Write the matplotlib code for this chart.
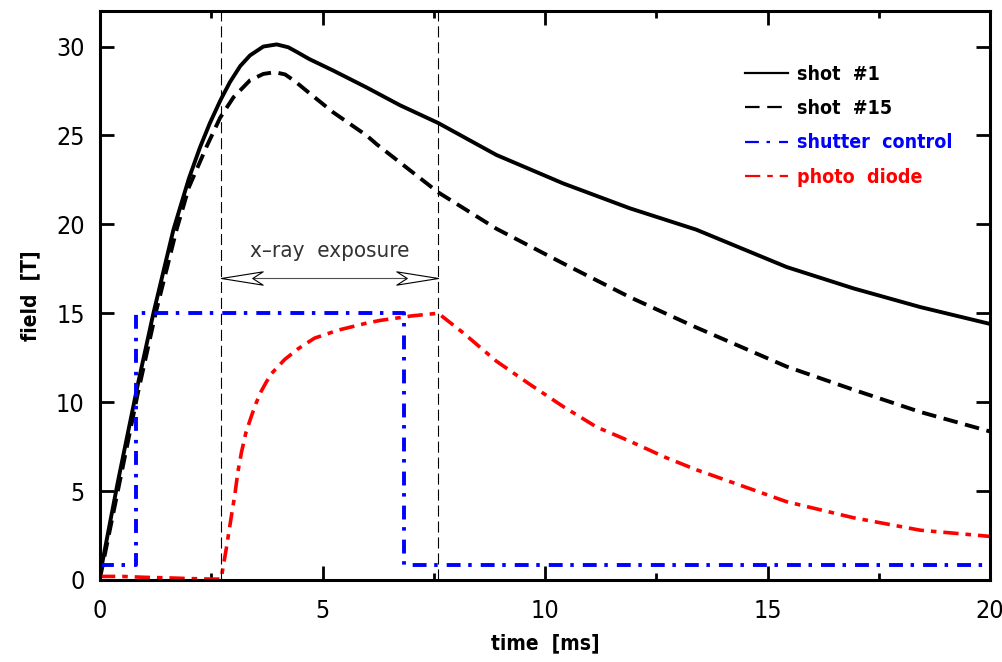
import numpy as np
import matplotlib
matplotlib.use("Agg")
import matplotlib.pyplot as plt
from matplotlib.path import Path
from matplotlib.markers import MarkerStyle

# ---------- data (time in ms, field in T) ----------
t_shot1 = [0.0, 0.4, 0.85, 1.2, 1.65, 2.0, 2.25, 2.47, 2.71, 2.92, 3.15, 3.37, 3.67, 3.97,
           4.23, 4.42, 4.7, 5.24, 5.99, 6.74, 7.6, 8.91, 10.41, 11.91, 13.4, 15.43,
           16.93, 18.43, 20.0]
b_shot1 = [0.3, 5.5, 11.0, 15.0, 19.7, 22.6, 24.35, 25.7, 27.0, 28.0, 28.9, 29.5, 30.0, 30.12,
           29.96, 29.7, 29.3, 28.65, 27.7, 26.7, 25.7, 23.9, 22.3, 20.9, 19.7, 17.6,
           16.4, 15.35, 14.4]

t_shot15 = [0.0, 0.4, 0.85, 1.25, 1.72, 2.0, 2.4, 2.7, 3.0, 3.37, 3.67, 3.93, 4.16, 4.38,
            4.72, 5.24, 5.99, 6.22, 7.6, 8.91, 10.41, 11.91, 13.4, 15.43, 16.93, 18.43, 20.0]
b_shot15 = [0.1, 5.0, 10.5, 15.0, 19.7, 22.1, 24.4, 26.0, 27.15, 28.1, 28.46, 28.56, 28.43, 28.05,
            27.35, 26.3, 25.0, 24.5, 21.8, 19.75, 17.8, 15.9, 14.2, 12.0, 10.7, 9.45, 8.35]

t_shutter = [0.0, 0.81, 0.81, 6.82, 6.82, 20.0]
v_shutter = [0.85, 0.85, 15.0, 15.0, 0.85, 0.85]

t_diode = [0.0, 0.5, 1.0, 1.5, 2.0, 2.5, 2.72, 2.84, 2.94, 3.03, 3.1, 3.18, 3.28, 3.4, 3.5,
           3.62, 3.73, 3.85, 4.0, 4.15, 4.45, 4.82, 5.35, 6.0, 6.3, 7.0, 7.6, 8.16, 8.91,
           9.66, 10.41, 11.16, 11.91, 12.7, 13.4, 14.08, 15.43, 16.93, 18.43, 20.0]
v_diode = [0.2, 0.2, 0.15, 0.12, 0.08, 0.05, 0.05, 1.8, 3.4, 4.8, 6.1, 7.2, 8.3, 9.2, 9.9,
           10.6, 11.1, 11.6, 12.0, 12.4, 13.0, 13.6, 14.05, 14.45, 14.6, 14.85, 15.0, 13.9,
           12.3, 11.0, 9.75, 8.6, 7.8, 6.9, 6.2, 5.6, 4.4, 3.5, 2.8, 2.45]

exposure = [2.72, 7.6]     # shutter window marks
exposure_y = 17.0

# ---------- style ----------
plt.rcParams['lines.scale_dashes'] = False
FONT = dict(family='DejaVu Sans', stretch='condensed')
LW = 2.8

fig = plt.figure(figsize=(10.03, 6.62), dpi=100)
ax = fig.add_axes([0.0997, 0.1239, 0.8874, 0.8595])

ax.plot(t_shot1, b_shot1, color='black', lw=LW, solid_joinstyle='round', label='shot  #1')
ax.plot(t_shot15, b_shot15, color='black', lw=LW, dashes=(10.5, 5.5), label='shot  #15')
ax.plot(t_shutter, v_shutter, color='blue', lw=LW, dashes=(10, 5.5, 2.5, 6.5),
        label='shutter  control')
ax.plot(t_diode, v_diode, color='red', lw=2.6, dashes=(11, 5, 4, 5), label='photo  diode')

# thin dashed markers of the exposure window
for tx in exposure:
    ax.axvline(tx, color='black', lw=0.8, dashes=(8, 3.5))

# double arrow with open notched heads
head = Path([(0, 0), (1, 0.16), (0.75, 0), (1, -0.16), (0, 0)],
            [Path.MOVETO, Path.LINETO, Path.LINETO, Path.LINETO, Path.CLOSEPOLY])
head_r = Path(np.column_stack([-head.vertices[:, 0], head.vertices[:, 1]]), head.codes)
ax.plot(exposure, [exposure_y, exposure_y], color='0.3', lw=0.8)
ax.plot([exposure[0]], [exposure_y], marker=MarkerStyle(head), ms=60, mfc='white',
        mec='black', mew=0.8, ls='')
ax.plot([exposure[1]], [exposure_y], marker=MarkerStyle(head_r), ms=60, mfc='white',
        mec='black', mew=0.8, ls='')
ax.text(5.17, 18.5, 'x\u2013ray  exposure', ha='center', va='center', fontsize=16,
        color='0.2', **FONT)

# axes
ax.set_xlim(0, 20)
ax.set_ylim(0, 32)
ax.set_xticks([0, 5, 10, 15, 20])
ax.set_xticks([2.5, 7.5, 12.5, 17.5], minor=True)
ax.set_yticks([0, 5, 10, 15, 20, 25, 30])
ax.tick_params(which='both', direction='in', top=True, right=True, width=2)
ax.tick_params(which='major', length=10)
ax.tick_params(which='minor', length=5)
ax.tick_params(axis='x', pad=14)
ax.tick_params(axis='y', pad=11)
for sp in ax.spines.values():
    sp.set_linewidth(2.2)
for lab in ax.get_xticklabels() + ax.get_yticklabels():
    lab.set_fontsize(18)
    lab.set_fontstretch('condensed')

ax.set_xlabel('time  [ms]', fontsize=15, fontweight='bold', labelpad=7, **FONT)
ax.set_ylabel('field  [T]', fontsize=15, fontweight='bold', labelpad=11, **FONT)

leg = ax.legend(loc='upper left', bbox_to_anchor=(0.7247, 0.905), frameon=False,
                handlelength=2.2, handletextpad=0.45, labelspacing=0.78, borderpad=0,
                borderaxespad=0, labelcolor='linecolor',
                prop=dict(weight='bold', size=14, stretch='condensed'))
for ln in leg.get_lines():
    ln.set_linewidth(1.6)

fig.savefig('out.png', dpi=100)
